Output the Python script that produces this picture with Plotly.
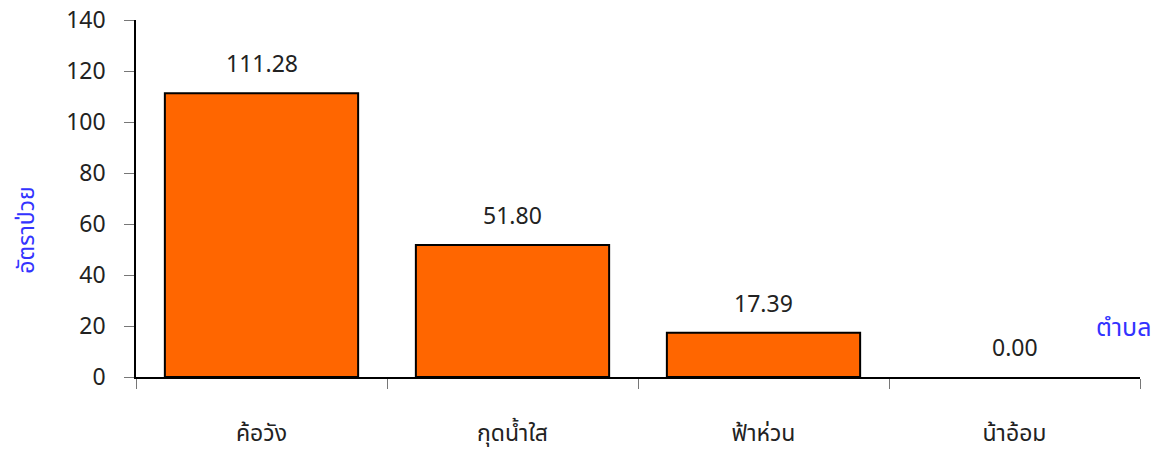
import plotly.graph_objects as go

# อัตราป่วย by ตำบล
categories = ["ค้อวัง", "กุดน้ำใส", "ฟ้าห่วน", "น้าอ้อม"]
rates = [111.28, 51.80, 17.39, 0.00]
y_ticks = [0, 20, 40, 60, 80, 100, 120, 140]

FONT = "Noto Sans, Noto Sans Thai, sans-serif"
BLUE = "#3333FF"

fig = go.Figure()
fig.add_trace(go.Bar(
    x=categories,
    y=rates,
    marker=dict(color="#FF6600",
                line=dict(color="black", width=[2 if v > 0 else 0 for v in rates])),
    showlegend=False,
))

# value labels above the bars
for c, v in zip(categories, rates):
    fig.add_annotation(x=c, y=v, text=f"{v:.2f}", showarrow=False,
                       yanchor="bottom", yshift=12,
                       font=dict(size=23, color="#222222"))

# page body adds an 8px offset, margins account for it
fig.update_layout(
    width=1163, height=450,
    margin=dict(l=128, r=31, t=12, b=81),
    plot_bgcolor="white", paper_bgcolor="white",
    font=dict(family=FONT, size=23, color="#222222"),
    bargap=0.23,
    xaxis=dict(
        showline=True, linecolor="black", linewidth=1.5,
        ticks="outside", tickson="boundaries", ticklen=10, tickcolor="#777777",
        ticklabelstandoff=35, automargin=False,
        showgrid=False,
    ),
    yaxis=dict(
        range=[0, 140], tickvals=y_ticks,
        showline=True, linecolor="black", linewidth=1.5,
        ticks="outside", ticklen=10, tickcolor="#777777",
        ticklabelstandoff=14, automargin=False, ticklabeloverflow="allow",
        showgrid=False, zeroline=False,
    ),
)

# axis titles
fig.add_annotation(text="อัตราป่วย", x=0, xref="paper", xanchor="center",
                   xshift=-111, y=0.41, yref="paper", yanchor="middle",
                   textangle=-90, showarrow=False,
                   font=dict(color=BLUE, size=23))
fig.add_annotation(text="ตำบล", x=1, xref="paper", xanchor="right", xshift=13,
                   y=20, yref="y", yanchor="middle", showarrow=False,
                   font=dict(color=BLUE, size=25))

fig.write_html("out.html")
